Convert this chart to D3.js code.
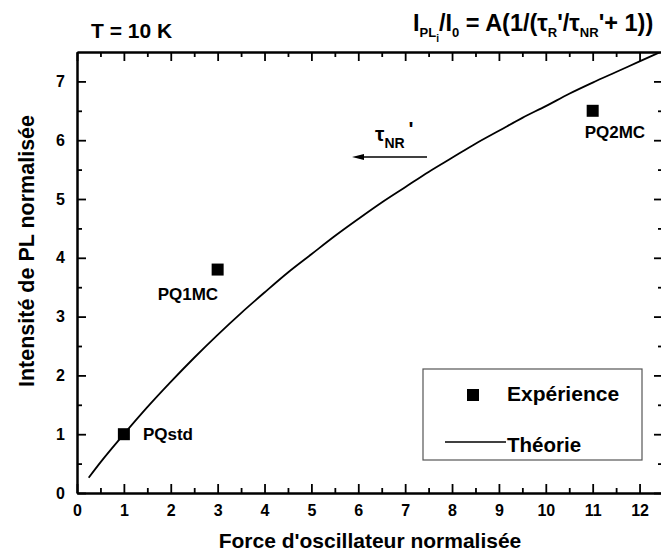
<!DOCTYPE html>
<html><head><meta charset="utf-8">
<script src="https://cdn.jsdelivr.net/npm/d3@7"></script>
<style>body{margin:0;background:#fff}svg{display:block;font-family:"Liberation Sans",Arial,sans-serif;font-weight:bold}</style>
</head><body>
<svg id="c" width="661" height="558"></svg>
<script>
// Data
const expNames = ["PQstd", "PQ1MC", "PQ2MC"];
const expX = [1, 3, 11];
const expY = [1.0, 3.8, 6.5];
const theoryX = [0.25, 0.5, 1, 1.5, 2, 2.5, 3, 3.5, 4, 4.5, 5, 5.5, 6, 6.5, 7, 7.5, 8, 8.5, 9, 9.5, 10, 10.5, 11, 11.5, 12, 12.5];
const theoryY = [0.26, 0.52, 1.0, 1.46, 1.89, 2.30, 2.69, 3.06, 3.41, 3.75, 4.06, 4.37, 4.66, 4.94, 5.20, 5.46, 5.70, 5.94, 6.16, 6.38, 6.58, 6.79, 6.98, 7.16, 7.34, 7.52];
const xTicks = [0,1,2,3,4,5,6,7,8,9,10,11,12];
const yTicks = [0,1,2,3,4,5,6,7];
const xMinor = [0.5,1.5,2.5,3.5,4.5,5.5,6.5,7.5,8.5,9.5,10.5,11.5];
const yMinor = [0.5,1.5,2.5,3.5,4.5,5.5,6.5];

const svg = d3.select("#c");
const L = 77, R = 663, T = 52, B = 493;
const x = d3.scaleLinear().domain([0, 12.5]).range([L, R]);
const y = d3.scaleLinear().domain([0, 7.5]).range([B, T]);

svg.append("defs").append("clipPath").attr("id","clip")
  .append("rect").attr("x",L).attr("y",T).attr("width",R-L).attr("height",B-T);

// theory curve
const line = d3.line().x((d,i)=>x(theoryX[i])).y(d=>y(d)).curve(d3.curveMonotoneX);
svg.append("path").attr("d", line(theoryY)).attr("fill","none").attr("stroke","#000")
  .attr("stroke-width",1.8).attr("clip-path","url(#clip)");

// axes with inward ticks
function ax(gen, tr, ticks, size, labels) {
  gen.tickValues(ticks).tickSizeInner(-size).tickSizeOuter(0).tickPadding(labels ? 12 : 0)
     .tickFormat(labels ? d3.format("d") : () => "");
  const g = svg.append("g").attr("transform", tr).call(gen);
  g.select(".domain").attr("stroke","#000").attr("stroke-width",2);
  g.selectAll(".tick line").attr("stroke","#000").attr("stroke-width",1.8);
  g.selectAll(".tick text").attr("font-size",16).attr("font-weight","bold")
    .attr("font-family","Liberation Sans, Arial, sans-serif").attr("fill","#000");
  if (labels) g.selectAll(".tick text").each(function(){
    const t = d3.select(this);
    if (t.attr("x") !== null) t.attr("x", -12);
    if (t.attr("y") !== null && +t.attr("y") < 0) t.attr("y", 0);
  });
  return g;
}
ax(d3.axisBottom(x), `translate(0,${B})`, xTicks, 9, true).selectAll(".tick text").attr("y", 12);
ax(d3.axisBottom(x), `translate(0,${B})`, xMinor, 5, false);
ax(d3.axisTop(x), `translate(0,${T})`, xTicks, 9, false);
ax(d3.axisTop(x), `translate(0,${T})`, xMinor, 5, false);
ax(d3.axisLeft(y), `translate(${L},0)`, yTicks, 9, true);
ax(d3.axisLeft(y), `translate(${L},0)`, yMinor, 5, false);
ax(d3.axisRight(y), `translate(${R},0)`, yTicks, 9, false);
ax(d3.axisRight(y), `translate(${R},0)`, yMinor, 5, false);

// experimental points
const sq = 12;
svg.selectAll("rect.pt").data(expX).join("rect").attr("class","pt")
  .attr("x",(d)=>x(d)-sq/2).attr("y",(d,i)=>y(expY[i])-sq/2)
  .attr("width",sq).attr("height",sq).attr("fill","#000");

const labOff = [[19, 6], [-60, 30], [-8, 27]];
svg.selectAll("text.lab").data(expNames).join("text").attr("class","lab")
  .attr("x",(d,i)=>x(expX[i])+labOff[i][0]).attr("y",(d,i)=>y(expY[i])+labOff[i][1])
  .attr("font-size",17).text(d=>d);

// axis titles
svg.append("text").attr("x",370).attr("y",548).attr("text-anchor","middle")
  .attr("font-size",21).text("Force d'oscillateur normalisée");
svg.append("text").attr("transform",`translate(34,251) rotate(-90)`).attr("text-anchor","middle")
  .attr("font-size",21.5).text("Intensité de PL normalisée");

// titles
svg.append("text").attr("x",91).attr("y",38).attr("font-size",21).text("T = 10 K");
const f = svg.append("text").attr("x",413).attr("y",31).attr("font-size",23.5);
f.append("tspan").text("I");
f.append("tspan").attr("font-size",13).attr("dy",6).text("PL");
f.append("tspan").attr("font-size",10).attr("dy",5).text("i");
f.append("tspan").attr("dy",-11).text("/I");
f.append("tspan").attr("font-size",13).attr("dy",6).text("0");
f.append("tspan").attr("dy",-6).text(" = A(1/(τ");
f.append("tspan").attr("font-size",13).attr("dy",6).text("R");
f.append("tspan").attr("dy",-6).text("'/τ");
f.append("tspan").attr("font-size",13).attr("dy",6).text("NR");
f.append("tspan").attr("dy",-6).text("'+ 1))");

// annotation τNR' with arrow
const a = svg.append("text").attr("x",375).attr("y",141).attr("font-size",21);
a.append("tspan").text("τ");
a.append("tspan").attr("font-size",14).attr("dy",7).text("NR");
a.append("tspan").attr("dy",-12).attr("dx",4).text("'");
svg.append("line").attr("x1",427).attr("y1",157).attr("x2",362).attr("y2",157)
  .attr("stroke","#000").attr("stroke-width",1.3);
svg.append("path").attr("d","M352,157 L364,154 L364,160 Z").attr("fill","#000");

// legend
svg.append("rect").attr("x",423).attr("y",369).attr("width",219).attr("height",91)
  .attr("fill","#fff").attr("stroke","#555").attr("stroke-width",1.2);
svg.append("rect").attr("x",467).attr("y",389).attr("width",12).attr("height",12).attr("fill","#000");
svg.append("text").attr("x",507).attr("y",401).attr("font-size",21).text("Expérience");
svg.append("line").attr("x1",445).attr("x2",506).attr("y1",442).attr("y2",442).attr("stroke","#000").attr("stroke-width",1.5);
svg.append("text").attr("x",507).attr("y",452).attr("font-size",20.5).text("Théorie");
</script>
</body></html>
